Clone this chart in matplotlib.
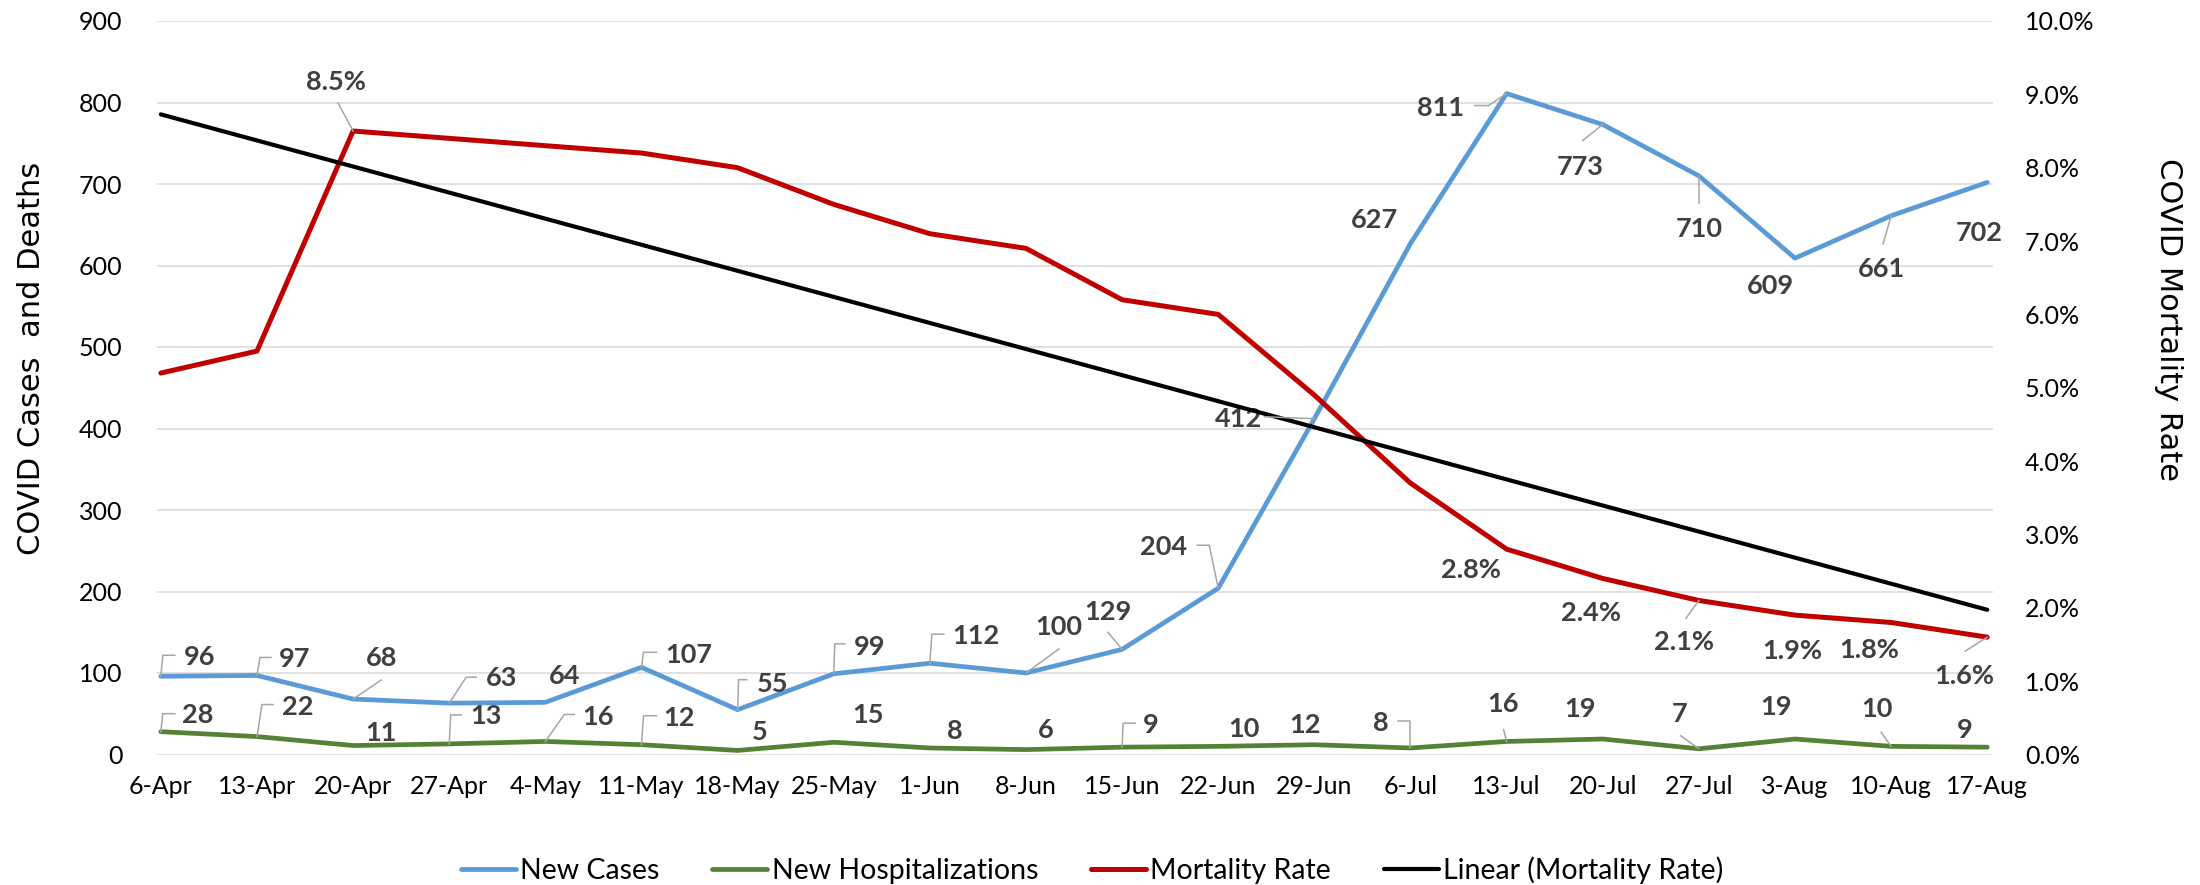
import numpy as np
import matplotlib.pyplot as plt
from matplotlib.lines import Line2D
from matplotlib.transforms import IdentityTransform
from matplotlib.ticker import FuncFormatter

# ---------------------------------------------------------------- data
weeks = ['6-Apr', '13-Apr', '20-Apr', '27-Apr', '4-May', '11-May', '18-May', '25-May', '1-Jun', '8-Jun',
         '15-Jun', '22-Jun', '29-Jun', '6-Jul', '13-Jul', '20-Jul', '27-Jul', '3-Aug', '10-Aug', '17-Aug']
new_cases = [96, 97, 68, 63, 64, 107, 55, 99, 112, 100, 129, 204, 412, 627, 811, 773, 710, 609, 661, 702]
new_hosp = [28, 22, 11, 13, 16, 12, 5, 15, 8, 6, 9, 10, 12, 8, 16, 19, 7, 19, 10, 9]
mortality = [5.2, 5.5, 8.5, 8.4, 8.3, 8.2, 8.0, 7.5, 7.1, 6.9, 6.2, 6.0, 4.9, 3.7, 2.8, 2.4, 2.1, 1.9, 1.8, 1.6]
mort_labelled = [2, 14, 15, 16, 17, 18, 19]

# ---------------------------------------------------------------- label placement (pixels, y down)
case_off = [(39, -19), (38, -16), (28, -41), (52, -25), (19, -26), (47, -12), (35, -26), (36, -27), (46, -27),
            (33, -46), (-14, -37), (-55, -41), (-76, 0), (-36, -23), (-66, 14), (-23, 42), (0, 53), (-25, 28),
            (-10, 53), (-8, 51)]
case_lead = {0: [(2, -21), (14, -21)], 1: [(3, -18), (14, -18)], 2: [(28, -19)], 3: [(17, -26), (27, -26)],
             5: [(2, -15), (15, -15)], 6: [(1, -30), (9, -30)], 7: [(1, -30), (11, -30)], 8: [(2, -29), (14, -29)],
             9: [(33, -24)], 10: [(-14, -17)], 11: [(-9, -43), (-21, -43)], 12: [(-50, -2)],
             14: [(-18, 12), (-32, 12)], 15: [(-20, 16)], 16: [(0, 27)], 18: [(-8, 28)]}
hosp_off = [(37, -17), (41, -30), (28, -13), (37, -28), (53, -24), (38, -27), (22, -18), (34, -27), (25, -17),
            (20, -20), (29, -22), (26, -17), (-9, -20), (-30, -25), (-4, -37), (-23, -30), (-19, -35), (-19, -32),
            (-14, -37), (-22, -17)]
hosp_lead = {0: [(2, -18), (14, -18)], 1: [(5, -32), (16, -32)], 3: [(1.5, -29), (12, -29)],
             4: [(19, -27), (29, -27)], 5: [(2, -29), (15, -29)], 10: [(1, -24), (13, -24)],
             13: [(0, -27), (-12, -27)], 14: [(-3, -12)], 16: [(-18, -13)], 18: [(-10, -14)]}
mort_off = {2: (-17, -49), 14: (-36, 21), 15: (-12, 35), 16: (-15, 42), 17: (-3, 36), 18: (-22, 28), 19: (-23, 39)}
mort_lead = {2: [(-15, -28)], 16: [(-13, 18)], 19: [(-22, 14)]}

BLUE, GREEN, RED = '#5B9BD5', '#548235', '#C00000'
LABEL = '#404040'
LEAD = '#A6A6A6'

plt.rcParams['font.family'] = ['Lato', 'DejaVu Sans']

fig = plt.figure(figsize=(22, 8.85), dpi=100)
ax = fig.add_axes([157 / 2200, 1 - 754.5 / 885, (1993 - 157) / 2200, (754.5 - 21) / 885])
ax2 = ax.twinx()

x = np.arange(len(weeks))
trend = np.polyval(np.polyfit(x, mortality, 1), x)

l1, = ax.plot(x, new_cases, color=BLUE, lw=3.4, solid_capstyle='round', solid_joinstyle='round', zorder=3)
l2, = ax.plot(x, new_hosp, color=GREEN, lw=3.4, solid_capstyle='round', solid_joinstyle='round', zorder=3)
l3, = ax2.plot(x, mortality, color=RED, lw=3.6, solid_capstyle='round', solid_joinstyle='round', zorder=3)
l4, = ax2.plot(x, trend, color='black', lw=3.0, solid_capstyle='round', zorder=4)

ax.set_xlim(-0.04, 19.06)
ax.set_ylim(0, 900)
ax2.set_ylim(0, 10)
ax.set_yticks(range(0, 901, 100))
ax2.set_yticks(range(0, 11))
ax2.yaxis.set_major_formatter(FuncFormatter(lambda v, p: '%.1f%%' % v))
ax.set_xticks(x)
ax.set_xticklabels(weeks)
ax.grid(axis='y', color='#D9D9D9', lw=1.1)
ax.set_axisbelow(True)
for a in (ax, ax2):
    for s in a.spines.values():
        s.set_visible(False)
ax.tick_params(axis='both', length=0, labelsize=18, colors='black')
ax.tick_params(axis='y', pad=25)
ax.tick_params(axis='x', pad=15)
ax2.tick_params(axis='y', length=0, labelsize=18, pad=23)

fig.text(32 / 2200, 1 - 358 / 885, 'COVID Cases  and Deaths', rotation=90, ha='center', va='center',
         fontsize=22, family='DejaVu Sans')
fig.text(2169 / 2200, 1 - 320 / 885, 'COVID Mortality Rate', rotation=270, ha='center', va='center',
         fontsize=22, family='DejaVu Sans')


def put_labels(a, idx, vals, texts, offs, leads):
    for i in idx:
        dx, dy = offs[i]
        a.annotate(texts[i], (x[i], vals[i]), xytext=(dx, -dy), textcoords='offset pixels',
                   ha='center', va='center', fontsize=19.5, fontweight='bold', color=LABEL, zorder=6)
        if i in leads:
            px, py = a.transData.transform((x[i], vals[i]))
            xs = [px] + [px + u for u, v in leads[i]]
            ys = [py] + [py - v for u, v in leads[i]]
            fig.add_artist(Line2D(xs, ys, transform=IdentityTransform(), color=LEAD, lw=1.1, zorder=5))


put_labels(ax, range(len(weeks)), new_cases, [str(v) for v in new_cases], case_off, case_lead)
put_labels(ax, range(len(weeks)), new_hosp, [str(v) for v in new_hosp], hosp_off, hosp_lead)
put_labels(ax2, mort_labelled, mortality, {i: '%.1f%%' % mortality[i] for i in mort_labelled}, mort_off, mort_lead)

fig.legend([l1, l2, l3, l4], ['New Cases', 'New Hospitalizations', 'Mortality Rate', 'Linear (Mortality Rate)'],
           loc='center', bbox_to_anchor=(0.4964, 1 - 870 / 885), ncol=4, frameon=False, fontsize=20.5,
           handlelength=1.93, handletextpad=0.15, columnspacing=1.86)

fig.savefig('out.png', dpi=100)
